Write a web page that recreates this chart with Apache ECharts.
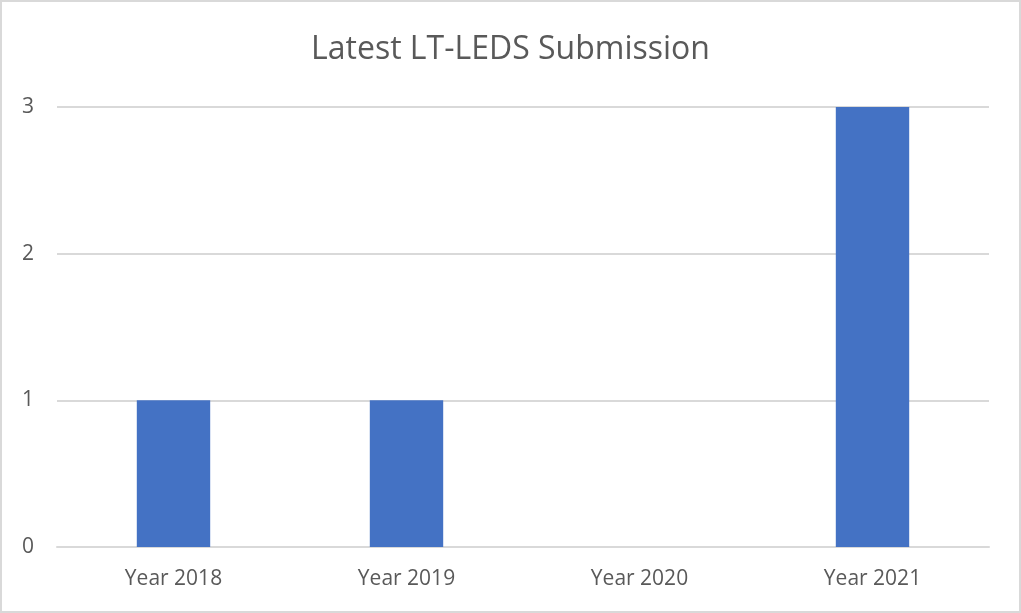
<!DOCTYPE html>
<html>
<head>
<meta charset="utf-8">
<script src="https://cdn.jsdelivr.net/npm/echarts@6/dist/echarts.min.js"></script>
<style>
  html, body { margin: 0; padding: 0; background: #fff; }
  #frame { width: 1021px; height: 613px; box-sizing: border-box; border: 2px solid #d9d9d9; position: relative; }
  #chart { position: absolute; left: -2px; top: -2px; width: 1021px; height: 613px; }
</style>
</head>
<body>
<div id="frame"><div id="chart"></div></div>
<script>
// data
const categories = ['Year 2018', 'Year 2019', 'Year 2020', 'Year 2021'];
const submissions = [1, 1, 0, 3];
const yTicks = [0, 1, 2, 3];

const myChart = echarts.init(document.getElementById('chart'));
const option = {
  animation: false,
  title: {
    text: 'Latest LT-LEDS Submission',
    left: 'center',
    top: 29,
    textStyle: {
      fontFamily: 'Open Sans',
      fontSize: 32,
      fontWeight: 'normal',
      color: '#595959'
    }
  },
  grid: {
    left: 57,
    right: 32,
    top: 107,
    bottom: 66,
    containLabel: false
  },
  xAxis: {
    type: 'category',
    data: categories,
    axisTick: { show: false },
    axisLine: { lineStyle: { color: '#d9d9d9', width: 2 } },
    axisLabel: {
      margin: 22,
      fontFamily: 'Open Sans',
      fontSize: 21,
      color: '#595959'
    }
  },
  yAxis: {
    type: 'value',
    min: yTicks[0],
    max: yTicks[yTicks.length - 1],
    interval: 1,
    axisLine: { show: false },
    axisTick: { show: false },
    axisLabel: {
      margin: 23,
      fontFamily: 'Open Sans',
      fontSize: 21,
      color: '#595959'
    },
    splitLine: { lineStyle: { color: '#d9d9d9', width: 2 } }
  },
  series: [{
    type: 'bar',
    data: submissions,
    barWidth: '31.5%',
    itemStyle: { color: '#4472c4' }
  }]
};
myChart.setOption(option);
</script>
</body>
</html>
